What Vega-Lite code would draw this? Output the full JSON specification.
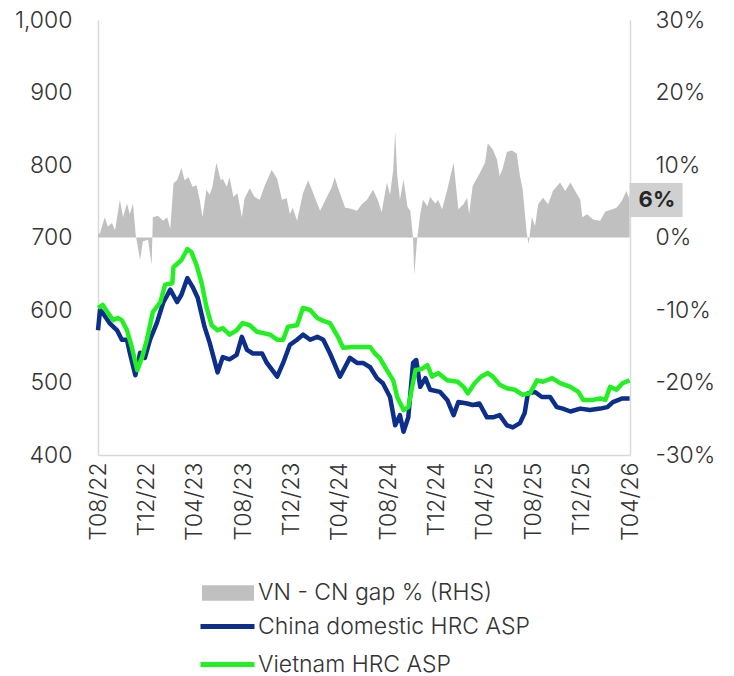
{
  "$schema": "https://vega.github.io/schema/vega-lite/v6.json",
  "width": 532,
  "height": 435,
  "autosize": {"type": "none"},
  "padding": {"left": 98, "top": 20, "right": 104, "bottom": 221},
  "background": "white",
  "config": {
    "view": {"stroke": null},
    "font": "Inter",
    "axis": {"grid": false, "ticks": false, "domainColor": "#d9d9d9", "domainWidth": 1.5, "labelFontSize": 23, "labelColor": "#333333", "labelFont": "Inter", "labelFontWeight": 300, "title": null},
    "legend": {"labelFontSize": 23, "labelColor": "#333333", "labelFont": "Inter", "labelFontWeight": 300, "labelLimit": 500, "title": null}
  },
  "datasets": {
    "gap": [
      {"d":"2022-08-01","v":0.005},{"d":"2022-08-06","v":0.006},{"d":"2022-08-18","v":0.028},{"d":"2022-08-26","v":0.015},{"d":"2022-09-05","v":0.020},{"d":"2022-09-13","v":0.010},{"d":"2022-09-25","v":0.052},{"d":"2022-10-03","v":0.028},{"d":"2022-10-13","v":0.047},{"d":"2022-10-20","v":0.032},{"d":"2022-10-28","v":0.047},{"d":"2022-11-04","v":0.003},{"d":"2022-11-15","v":-0.031},{"d":"2022-11-22","v":-0.005},{"d":"2022-12-05","v":-0.003},{"d":"2022-12-14","v":-0.038},{"d":"2022-12-17","v":0.028},{"d":"2022-12-30","v":0.030},
      {"d":"2023-01-12","v":0.023},{"d":"2023-01-22","v":0.028},{"d":"2023-01-30","v":0.012},{"d":"2023-02-07","v":0.075},{"d":"2023-02-16","v":0.079},{"d":"2023-02-27","v":0.096},{"d":"2023-03-07","v":0.079},{"d":"2023-03-17","v":0.083},{"d":"2023-03-27","v":0.070},{"d":"2023-04-06","v":0.072},{"d":"2023-04-14","v":0.052},{"d":"2023-04-21","v":0.028},{"d":"2023-05-01","v":0.066},{"d":"2023-05-09","v":0.059},{"d":"2023-05-16","v":0.070},{"d":"2023-05-26","v":0.103},{"d":"2023-06-06","v":0.079},{"d":"2023-06-11","v":0.081},{"d":"2023-06-21","v":0.070},{"d":"2023-06-28","v":0.083},{"d":"2023-07-08","v":0.056},{"d":"2023-07-18","v":0.061},{"d":"2023-07-29","v":0.028},{"d":"2023-08-05","v":0.054},{"d":"2023-08-18","v":0.068},{"d":"2023-08-30","v":0.056},{"d":"2023-09-12","v":0.052},{"d":"2023-09-25","v":0.072},{"d":"2023-10-12","v":0.093},{"d":"2023-10-26","v":0.081},{"d":"2023-11-07","v":0.052},{"d":"2023-11-19","v":0.054},{"d":"2023-11-27","v":0.032},{"d":"2023-12-04","v":0.041},{"d":"2023-12-15","v":0.023},{"d":"2023-12-30","v":0.061},
      {"d":"2024-01-12","v":0.079},{"d":"2024-01-24","v":0.062},{"d":"2024-02-11","v":0.037},{"d":"2024-02-28","v":0.056},{"d":"2024-03-11","v":0.069},{"d":"2024-03-19","v":0.083},{"d":"2024-03-27","v":0.069},{"d":"2024-04-14","v":0.041},{"d":"2024-04-26","v":0.040},{"d":"2024-05-14","v":0.037},{"d":"2024-05-26","v":0.046},{"d":"2024-06-08","v":0.052},{"d":"2024-06-23","v":0.066},{"d":"2024-07-05","v":0.052},{"d":"2024-07-15","v":0.035},{"d":"2024-07-28","v":0.076},{"d":"2024-08-05","v":0.059},{"d":"2024-08-13","v":0.093},{"d":"2024-08-18","v":0.146},{"d":"2024-08-23","v":0.087},{"d":"2024-08-30","v":0.052},{"d":"2024-09-08","v":0.080},{"d":"2024-09-18","v":0.042},{"d":"2024-09-25","v":0.037},{"d":"2024-10-02","v":0.000},{"d":"2024-10-05","v":-0.052},{"d":"2024-10-12","v":-0.003},{"d":"2024-10-20","v":0.032},{"d":"2024-10-27","v":0.052},{"d":"2024-11-07","v":0.043},{"d":"2024-11-14","v":0.056},{"d":"2024-11-27","v":0.047},{"d":"2024-12-04","v":0.052},{"d":"2024-12-14","v":0.039},{"d":"2024-12-27","v":0.066},
      {"d":"2025-01-12","v":0.103},{"d":"2025-01-24","v":0.039},{"d":"2025-02-06","v":0.046},{"d":"2025-02-15","v":0.055},{"d":"2025-02-20","v":0.032},{"d":"2025-03-01","v":0.071},{"d":"2025-03-18","v":0.088},{"d":"2025-04-01","v":0.103},{"d":"2025-04-08","v":0.130},{"d":"2025-04-21","v":0.121},{"d":"2025-05-01","v":0.108},{"d":"2025-05-08","v":0.085},{"d":"2025-05-16","v":0.096},{"d":"2025-05-26","v":0.118},{"d":"2025-06-08","v":0.120},{"d":"2025-06-20","v":0.116},{"d":"2025-06-28","v":0.085},{"d":"2025-07-05","v":0.066},{"d":"2025-07-15","v":0.006},{"d":"2025-07-20","v":-0.009},{"d":"2025-07-28","v":0.028},{"d":"2025-08-05","v":0.016},{"d":"2025-08-13","v":0.046},{"d":"2025-08-25","v":0.055},{"d":"2025-09-07","v":0.046},{"d":"2025-09-19","v":0.064},{"d":"2025-10-07","v":0.076},{"d":"2025-10-20","v":0.064},{"d":"2025-11-02","v":0.076},{"d":"2025-11-14","v":0.064},{"d":"2025-11-27","v":0.052},{"d":"2025-12-02","v":0.028},{"d":"2025-12-14","v":0.032},{"d":"2025-12-29","v":0.025},
      {"d":"2026-01-16","v":0.023},{"d":"2026-01-29","v":0.036},{"d":"2026-02-10","v":0.038},{"d":"2026-02-26","v":0.041},{"d":"2026-03-11","v":0.050},{"d":"2026-03-23","v":0.064},{"d":"2026-03-29","v":0.055},{"d":"2026-03-31","v":0.062}
    ],
    "cn": [
      {"d":"2022-08-01","v":572},{"d":"2022-08-06","v":600},{"d":"2022-08-13","v":596},{"d":"2022-08-30","v":582},{"d":"2022-09-18","v":572},{"d":"2022-09-30","v":559},{"d":"2022-10-13","v":559},{"d":"2022-10-20","v":541},{"d":"2022-11-03","v":510},{"d":"2022-11-15","v":541},{"d":"2022-11-27","v":534},{"d":"2022-12-10","v":559},{"d":"2022-12-27","v":582},
      {"d":"2023-01-12","v":610},{"d":"2023-01-30","v":628},{"d":"2023-02-16","v":611},{"d":"2023-02-27","v":621},{"d":"2023-03-14","v":644},{"d":"2023-03-27","v":632},{"d":"2023-04-09","v":617},{"d":"2023-04-26","v":577},{"d":"2023-05-09","v":555},{"d":"2023-05-29","v":514},{"d":"2023-06-11","v":535},{"d":"2023-06-28","v":532},{"d":"2023-07-16","v":538},{"d":"2023-07-29","v":563},{"d":"2023-08-11","v":545},{"d":"2023-08-26","v":540},{"d":"2023-09-18","v":540},{"d":"2023-09-30","v":527},{"d":"2023-10-26","v":508},{"d":"2023-11-10","v":527},{"d":"2023-11-27","v":552},{"d":"2023-12-15","v":559},{"d":"2023-12-30","v":566},
      {"d":"2024-01-17","v":559},{"d":"2024-02-04","v":563},{"d":"2024-02-19","v":559},{"d":"2024-03-07","v":540},{"d":"2024-04-01","v":508},{"d":"2024-04-26","v":534},{"d":"2024-05-14","v":527},{"d":"2024-05-29","v":527},{"d":"2024-06-16","v":521},{"d":"2024-07-03","v":506},{"d":"2024-07-18","v":499},{"d":"2024-08-05","v":480},{"d":"2024-08-18","v":441},{"d":"2024-08-30","v":455},{"d":"2024-09-08","v":432},{"d":"2024-09-20","v":452},{"d":"2024-10-02","v":527},{"d":"2024-10-10","v":531},{"d":"2024-10-20","v":494},{"d":"2024-11-02","v":506},{"d":"2024-11-14","v":490},{"d":"2024-12-09","v":487},{"d":"2024-12-27","v":476},
      {"d":"2025-01-12","v":455},{"d":"2025-01-24","v":473},{"d":"2025-02-15","v":471},{"d":"2025-03-01","v":469},{"d":"2025-03-18","v":471},{"d":"2025-04-06","v":452},{"d":"2025-04-21","v":452},{"d":"2025-05-08","v":455},{"d":"2025-05-26","v":441},{"d":"2025-06-10","v":438},{"d":"2025-06-28","v":444},{"d":"2025-07-10","v":458},{"d":"2025-07-18","v":485},{"d":"2025-08-05","v":487},{"d":"2025-08-22","v":480},{"d":"2025-09-12","v":480},{"d":"2025-09-29","v":466},{"d":"2025-10-14","v":464},{"d":"2025-11-02","v":460},{"d":"2025-11-27","v":464},{"d":"2025-12-21","v":462},
      {"d":"2026-01-16","v":464},{"d":"2026-02-03","v":466},{"d":"2026-02-17","v":473},{"d":"2026-03-13","v":478},{"d":"2026-03-31","v":478}
    ],
    "vn": [
      {"d":"2022-08-01","v":603},{"d":"2022-08-13","v":607},{"d":"2022-08-26","v":596},{"d":"2022-09-08","v":586},{"d":"2022-09-20","v":589},{"d":"2022-09-30","v":586},{"d":"2022-10-13","v":572},{"d":"2022-10-25","v":549},{"d":"2022-11-08","v":517},{"d":"2022-11-20","v":535},{"d":"2022-12-02","v":559},{"d":"2022-12-17","v":597},
      {"d":"2023-01-05","v":611},{"d":"2023-01-17","v":635},{"d":"2023-02-04","v":637},{"d":"2023-02-07","v":659},{"d":"2023-02-27","v":669},{"d":"2023-03-14","v":684},{"d":"2023-03-24","v":680},{"d":"2023-04-06","v":662},{"d":"2023-04-19","v":637},{"d":"2023-05-01","v":604},{"d":"2023-05-14","v":579},{"d":"2023-05-29","v":572},{"d":"2023-06-11","v":575},{"d":"2023-06-28","v":566},{"d":"2023-07-16","v":572},{"d":"2023-07-31","v":582},{"d":"2023-08-18","v":579},{"d":"2023-09-05","v":570},{"d":"2023-10-08","v":566},{"d":"2023-10-26","v":559},{"d":"2023-11-10","v":559},{"d":"2023-11-22","v":577},{"d":"2023-12-15","v":579},{"d":"2023-12-30","v":603},
      {"d":"2024-01-17","v":600},{"d":"2024-02-04","v":589},{"d":"2024-02-19","v":585},{"d":"2024-03-07","v":582},{"d":"2024-03-27","v":563},{"d":"2024-04-09","v":548},{"d":"2024-05-03","v":549},{"d":"2024-06-16","v":549},{"d":"2024-06-28","v":540},{"d":"2024-07-10","v":534},{"d":"2024-07-28","v":517},{"d":"2024-08-13","v":503},{"d":"2024-08-23","v":480},{"d":"2024-09-08","v":462},{"d":"2024-09-20","v":466},{"d":"2024-10-08","v":517},{"d":"2024-10-25","v":519},{"d":"2024-11-07","v":524},{"d":"2024-11-19","v":508},{"d":"2024-12-04","v":513},{"d":"2024-12-27","v":503},
      {"d":"2025-01-22","v":501},{"d":"2025-02-06","v":494},{"d":"2025-02-17","v":485},{"d":"2025-03-06","v":499},{"d":"2025-03-22","v":508},{"d":"2025-04-08","v":513},{"d":"2025-04-21","v":508},{"d":"2025-05-08","v":497},{"d":"2025-05-26","v":492},{"d":"2025-06-15","v":490},{"d":"2025-07-05","v":483},{"d":"2025-07-23","v":485},{"d":"2025-08-10","v":503},{"d":"2025-08-25","v":501},{"d":"2025-09-17","v":506},{"d":"2025-10-07","v":499},{"d":"2025-11-02","v":494},{"d":"2025-11-22","v":487},{"d":"2025-12-04","v":476},{"d":"2025-12-29","v":476},
      {"d":"2026-01-16","v":478},{"d":"2026-01-29","v":476},{"d":"2026-02-10","v":494},{"d":"2026-02-26","v":490},{"d":"2026-03-13","v":499},{"d":"2026-03-31","v":503}
    ]
  },
  "encoding": {
    "x": {
      "field": "d", "type": "temporal", "title": null,
      "scale": {"type": "utc", "domain": [{"year": 2022, "month": 8, "date": 1, "utc": true}, {"year": 2026, "month": 4, "date": 1, "utc": true}]},
      "axis": {
        "format": "T%m/%y", "labelAngle": 270, "labelPadding": 7, "labelFlush": false, "labelOverlap": false,
        "values": [
          {"year": 2022, "month": 8, "date": 1, "utc": true}, {"year": 2022, "month": 12, "date": 1, "utc": true},
          {"year": 2023, "month": 4, "date": 1, "utc": true}, {"year": 2023, "month": 8, "date": 1, "utc": true}, {"year": 2023, "month": 12, "date": 1, "utc": true},
          {"year": 2024, "month": 4, "date": 1, "utc": true}, {"year": 2024, "month": 8, "date": 1, "utc": true}, {"year": 2024, "month": 12, "date": 1, "utc": true},
          {"year": 2025, "month": 4, "date": 1, "utc": true}, {"year": 2025, "month": 8, "date": 1, "utc": true}, {"year": 2025, "month": 12, "date": 1, "utc": true},
          {"year": 2026, "month": 4, "date": 1, "utc": true}
        ]
      }
    }
  },
  "layer": [
    {
      "data": {"name": "gap"},
      "layer": [
        {
          "mark": {"type": "area", "interpolate": "linear"},
          "encoding": {
            "y": {"field": "v", "type": "quantitative", "title": null, "scale": {"domain": [-0.3, 0.3]},
              "axis": {"orient": "right", "format": ".0%", "labelExpr": "replace(datum.label, '\u2212', '-')", "values": [-0.3, -0.2, -0.1, 0, 0.1, 0.2, 0.3], "labelPadding": 25}},
            "y2": {"datum": 0},
            "fill": {"datum": "VN - CN gap % (RHS)", "scale": {"range": ["#c0c0c0"]},
              "legend": {"orient": "none", "legendX": 104, "legendY": 547, "symbolType": "M-1,-0.3L1,-0.3L1,0.3L-1,0.3Z", "symbolSize": 2704, "symbolStrokeWidth": 0, "labelOffset": 4}}
          }
        },
        {
          "transform": [{"window": [{"op": "row_number", "as": "r"}], "sort": [{"field": "d", "order": "descending"}]}, {"filter": "datum.r == 1"}],
          "mark": {"type": "point", "shape": "M0,-0.64L2,-0.64L2,0.64L0,0.64Z", "filled": true, "fill": "#d0d0d0", "opacity": 1, "size": 2809, "strokeWidth": 0, "yOffset": 7.5},
          "encoding": {"y": {"field": "v", "type": "quantitative", "title": null}}
        },
        {
          "transform": [{"window": [{"op": "row_number", "as": "r"}], "sort": [{"field": "d", "order": "descending"}]}, {"filter": "datum.r == 1"}],
          "mark": {"type": "text", "align": "left", "baseline": "middle", "dx": 9, "dy": 7.5, "fontSize": 22, "fontWeight": "bold", "color": "#262626", "font": "Inter"},
          "encoding": {"y": {"field": "v", "type": "quantitative", "title": null}, "text": {"field": "v", "type": "quantitative", "format": ".0%"}}
        }
      ]
    },
    {
      "layer": [
        {
          "data": {"name": "cn"},
          "mark": {"type": "line", "strokeWidth": 4.5, "interpolate": "linear", "strokeJoin": "round"},
          "encoding": {
            "y": {"field": "v", "type": "quantitative", "title": null, "scale": {"domain": [400, 1000]},
              "axis": {"orient": "left", "format": ",.0f", "values": [400, 500, 600, 700, 800, 900, 1000], "labelPadding": 26}},
            "stroke": {"datum": "China domestic HRC ASP", "scale": {"range": ["#0b2f8a"]},
              "legend": {"orient": "none", "legendX": 100, "legendY": 577, "symbolType": "stroke", "symbolSize": 2916, "symbolStrokeWidth": 5, "labelOffset": 1}}
          }
        },
        {
          "data": {"name": "vn"},
          "mark": {"type": "line", "strokeWidth": 4.5, "interpolate": "linear", "strokeJoin": "round"},
          "encoding": {
            "y": {"field": "v", "type": "quantitative", "title": null},
            "stroke": {"datum": "Vietnam HRC ASP", "scale": {"range": ["#22f022"]},
              "legend": {"orient": "none", "legendX": 100, "legendY": 615, "symbolType": "stroke", "symbolSize": 2916, "symbolStrokeWidth": 5, "labelOffset": 1}}
          }
        }
      ],
      "resolve": {"scale": {"stroke": "independent"}}
    }
  ],
  "resolve": {"scale": {"y": "independent"}}
}
